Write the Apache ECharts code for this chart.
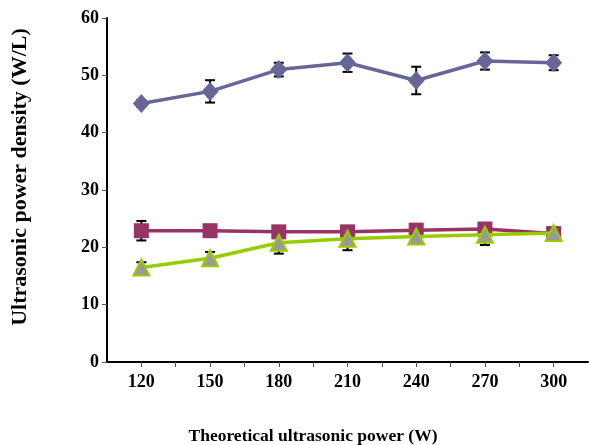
<!DOCTYPE html>
<html>
<head>
<meta charset="utf-8">
<script src="https://cdn.jsdelivr.net/npm/echarts@6/dist/echarts.min.js"></script>
<style>
  html, body { margin: 0; padding: 0; background: #fff; }
  #chart { width: 589px; height: 445px; }
</style>
</head>
<body>
<div id="chart"></div>
<script>
// theoretical power (W)
const powers = [120, 150, 180, 210, 240, 270, 300];

// measured power density (W/L) and error bars
const blueVals = [45.1, 47.2, 51.0, 52.2, 49.1, 52.5, 52.2];
const blueErr = [0.6, 1.95, 1.2, 1.6, 2.4, 1.5, 1.3];
const redVals = [22.9, 22.9, 22.7, 22.7, 23.0, 23.2, 22.4];
const redErr = [1.7, 0.4, 0.4, 0.4, 0.4, 0.4, 0.4];
const greenVals = [16.5, 18.1, 20.8, 21.5, 21.9, 22.2, 22.5];
const greenErr = [0.9, 1.1, 1.9, 2.0, 0.4, 1.8, 0.4];

const yTicks = [0, 10, 20, 30, 40, 50, 60];

const font = '"Liberation Serif", "Times New Roman", serif';

const chart = echarts.init(document.getElementById('chart'));

// pairs for line series
function pairs(vals) {
    return powers.map((p, i) => [p, vals[i]]);
}

// error bar triples
function errData(vals, errs) {
    return powers.map((p, i) => [p, vals[i] - errs[i], vals[i] + errs[i]]);
}

function renderErr(params, api) {
    const lo = api.coord([api.value(0), api.value(1)]);
    const hi = api.coord([api.value(0), api.value(2)]);
    const w = 5;
    const style = { stroke: '#000', lineWidth: 2 };
    return {
        type: 'group',
        children: [
            { type: 'line', shape: { x1: lo[0], y1: lo[1], x2: hi[0], y2: hi[1] }, style: style },
            { type: 'line', shape: { x1: lo[0] - w, y1: lo[1], x2: lo[0] + w, y2: lo[1] }, style: style },
            { type: 'line', shape: { x1: hi[0] - w, y1: hi[1], x2: hi[0] + w, y2: hi[1] }, style: style }
        ]
    };
}

function errSeries(vals, errs) {
    return {
        type: 'custom',
        renderItem: renderErr,
        data: errData(vals, errs),
        encode: { x: 0, y: [1, 2] },
        z: 1,
        silent: true
    };
}

const option = {
    animation: false,
    grid: { left: 107, right: 1, top: 18, bottom: 83 },
    xAxis: {
        type: 'value',
        min: 105,
        max: 315,
        interval: 15,
        axisLine: { show: true, lineStyle: { color: '#000', width: 2 } },
        axisTick: { show: true, length: 5, lineStyle: { color: '#555', width: 1 } },
        splitLine: { show: false },
        axisLabel: {
            margin: 11,
            color: '#000',
            fontFamily: font,
            fontWeight: 'bold',
            fontSize: 18,
            showMinLabel: false,
            showMaxLabel: false,
            formatter: function (v) {
                return powers.indexOf(v) >= 0 ? String(v) : '';
            }
        }
    },
    yAxis: {
        type: 'value',
        min: yTicks[0],
        max: yTicks[yTicks.length - 1],
        interval: 10,
        axisLine: { show: true, lineStyle: { color: '#000', width: 2 } },
        axisTick: { show: true, length: 5, lineStyle: { color: '#555', width: 1 } },
        splitLine: { show: false },
        axisLabel: {
            margin: 8,
            color: '#000',
            fontFamily: font,
            fontWeight: 'bold',
            fontSize: 18
        }
    },
    graphic: [
        {
            type: 'text',
            x: 20,
            y: 177,
            rotation: Math.PI / 2,
            style: {
                text: 'Ultrasonic power density (W/L)',
                fill: '#000',
                font: 'bold 22px ' + font,
                align: 'center',
                verticalAlign: 'middle'
            }
        },
        {
            type: 'text',
            x: 313,
            y: 436,
            style: {
                text: 'Theoretical ultrasonic power (W)',
                fill: '#000',
                font: 'bold 17.5px ' + font,
                align: 'center',
                verticalAlign: 'middle'
            }
        }
    ],
    series: [
        errSeries(blueVals, blueErr),
        errSeries(redVals, redErr),
        errSeries(greenVals, greenErr),
        {
            type: 'line',
            data: pairs(blueVals),
            symbol: 'diamond',
            symbolSize: [17, 19],
            lineStyle: { color: '#666699', width: 3.5 },
            itemStyle: { color: '#666699' },
            z: 3
        },
        {
            type: 'line',
            data: pairs(redVals),
            symbol: 'rect',
            symbolSize: 15,
            lineStyle: { color: '#993366', width: 3.5 },
            itemStyle: { color: '#993366' },
            z: 4
        },
        {
            type: 'line',
            data: pairs(greenVals),
            symbol: 'triangle',
            symbolSize: [16, 16],
            lineStyle: { color: '#99cc00', width: 3.5 },
            itemStyle: { color: '#999999', borderColor: '#99cc00', borderWidth: 2 },
            z: 5
        }
    ]
};

chart.setOption(option);
</script>
</body>
</html>
